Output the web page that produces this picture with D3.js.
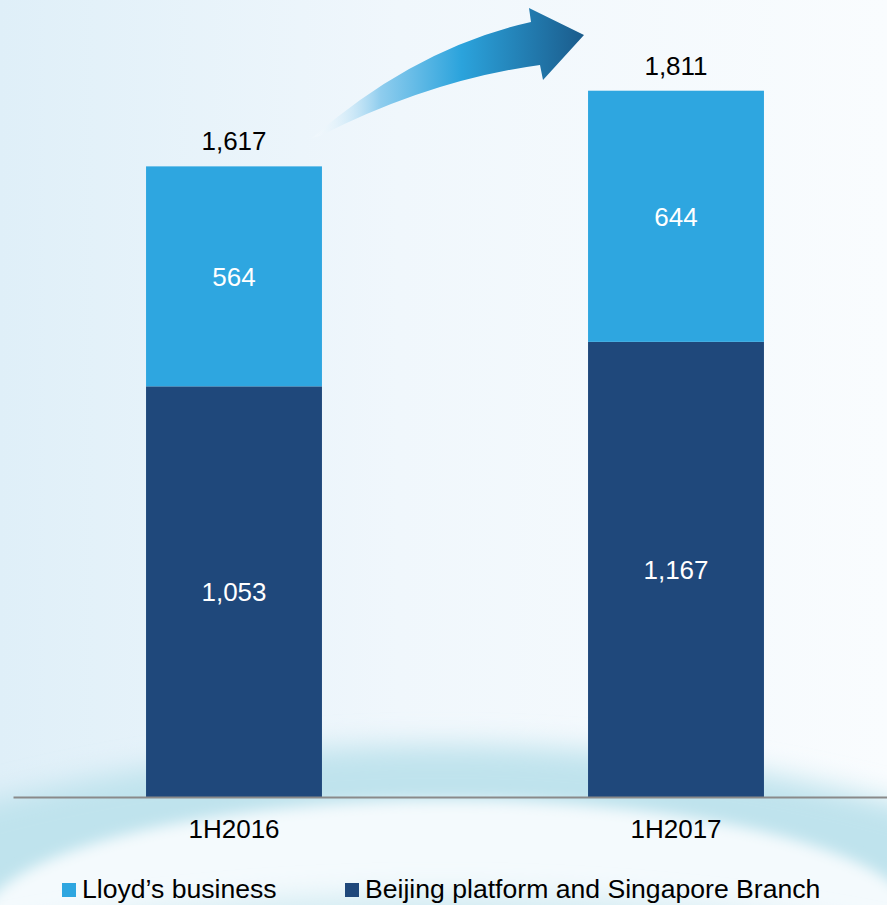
<!DOCTYPE html>
<html>
<head>
<meta charset="utf-8">
<script src="https://cdn.jsdelivr.net/npm/d3@7"></script>
<style>
  body { margin: 0; padding: 0; overflow: hidden; }
  svg { display: block; }
  text { font-family: "Liberation Sans", Arial, sans-serif; }
</style>
</head>
<body>
<svg id="chart"></svg>
<script>
// data
var periods = ["1H2016", "1H2017"];
var beijingValues = [1053, 1167];
var lloydsValues = [564, 644];
var totals = [1617, 1811];
var seriesNames = ["Lloyd\u2019s business", "Beijing platform and Singapore Branch"];
var seriesColors = ["#2ea6e0", "#1f487b"];

var screen = {width:887, height:905};

var svg = d3.select("#chart")
    .attr("width", screen.width)
    .attr("height", screen.height);

var defs = svg.append("defs");

// background gradients
var bg = defs.append("linearGradient").attr("id","bg")
    .attr("x1","0").attr("y1","0").attr("x2","1").attr("y2","0");
bg.append("stop").attr("offset","0").attr("stop-color","#dfeff8");
bg.append("stop").attr("offset","0.45").attr("stop-color","#f0f7fc");
bg.append("stop").attr("offset","1").attr("stop-color","#f9fcfe");

var blur = defs.append("filter").attr("id","soft")
    .attr("x","-20%").attr("y","-20%").attr("width","140%").attr("height","140%");
blur.append("feGaussianBlur").attr("stdDeviation", 14);

var blur2 = defs.append("filter").attr("id","soft2")
    .attr("x","-20%").attr("y","-20%").attr("width","140%").attr("height","140%");
blur2.append("feGaussianBlur").attr("stdDeviation", 7);

var arrowGrad = defs.append("linearGradient").attr("id","arrowGrad")
    .attr("gradientUnits","userSpaceOnUse")
    .attr("x1",313).attr("y1",0).attr("x2",583).attr("y2",0);
arrowGrad.append("stop").attr("offset","0").attr("stop-color","#ffffff").attr("stop-opacity",0.2);
arrowGrad.append("stop").attr("offset","0.25").attr("stop-color","#8fcdee");
arrowGrad.append("stop").attr("offset","0.55").attr("stop-color","#2ba3dc");
arrowGrad.append("stop").attr("offset","1").attr("stop-color","#1b5c8c");

var back = svg.append("g").classed("background", true);
back.append("rect")
    .attr("width", screen.width).attr("height", screen.height)
    .attr("fill", "url(#bg)");

// wave decoration at the bottom
back.append("ellipse")
    .attr("cx", 440).attr("cy", 1230).attr("rx", 960).attr("ry", 485)
    .attr("fill", "#bfe3ed").attr("filter", "url(#soft)");
back.append("ellipse")
    .attr("cx", 450).attr("cy", 925).attr("rx", 470).attr("ry", 125)
    .attr("fill", "#f4fafd").attr("filter", "url(#soft2)");
back.append("ellipse")
    .attr("cx", 440).attr("cy", 1090).attr("rx", 720).attr("ry", 195)
    .attr("fill", "#d2ebf2").attr("filter", "url(#soft)");

var margins = {left:13, right:-10, top:17, bottom:108};

var xScale = d3.scaleBand()
    .domain(periods)
    .range([margins.left, screen.width - margins.right])
    .paddingInner(0.602)
    .paddingOuter(0.301);

var yScale = d3.scaleLinear()
    .domain([0, 2000])
    .range([screen.height - margins.bottom, margins.top]);

var rows = periods.map(function(p, i) {
    return {period:p, beijing:beijingValues[i], lloyds:lloydsValues[i], total:totals[i]};
});

var stack = d3.stack().keys(["beijing", "lloyds"]);
var layers = stack(rows);

// arrow between the two bars
svg.append("path")
    .attr("d", "M312,138 Q415,48 531,22 L529,8 L584,35 L543,80 L540,65 Q430,80 320,136 Z")
    .attr("fill", "url(#arrowGrad)");

var layerColors = {beijing: seriesColors[1], lloyds: seriesColors[0]};

var bars = svg.append("g").classed("bars", true)
    .selectAll("g")
    .data(layers)
    .enter()
    .append("g")
    .attr("fill", function(layer) { return layerColors[layer.key]; });

bars.selectAll("rect")
    .data(function(layer) { return layer; })
    .enter()
    .append("rect")
    .attr("x", function(d) { return xScale(d.data.period); })
    .attr("y", function(d) { return yScale(d[1]); })
    .attr("width", xScale.bandwidth())
    .attr("height", function(d) { return yScale(d[0]) - yScale(d[1]); });

bars.selectAll("text")
    .data(function(layer) { return layer; })
    .enter()
    .append("text")
    .attr("x", function(d) { return xScale(d.data.period) + xScale.bandwidth()/2; })
    .attr("y", function(d) { return (yScale(d[0]) + yScale(d[1]))/2; })
    .attr("dy", "0.36em")
    .attr("text-anchor", "middle")
    .attr("fill", "#ffffff")
    .style("font-size", "26px")
    .text(function(d) { return d3.format(",")(d[1] - d[0]); });

// totals above bars
svg.append("g").classed("totals", true)
    .selectAll("text")
    .data(rows)
    .enter()
    .append("text")
    .attr("x", function(d) { return xScale(d.period) + xScale.bandwidth()/2; })
    .attr("y", function(d) { return yScale(d.total) - 16; })
    .attr("text-anchor", "middle")
    .attr("fill", "#000000")
    .style("font-size", "26px")
    .text(function(d) { return d3.format(",")(d.total); });

// x axis
var xAxis = d3.axisBottom(xScale).tickSize(0).tickPadding(23);
var axis = svg.append("g")
    .attr("transform", "translate(0," + yScale(0) + ")")
    .call(xAxis);
axis.select(".domain")
    .attr("stroke", "#8a8a8a")
    .attr("stroke-width", 2);
axis.selectAll("text")
    .attr("fill", "#000000")
    .style("font-size", "26px")
    .style("font-family", "'Liberation Sans', Arial, sans-serif");

// legend
var legendX = [62, 345];
var legend = svg.append("g").classed("legend", true)
    .selectAll("g")
    .data(seriesNames)
    .enter()
    .append("g")
    .attr("transform", function(d, i) { return "translate(" + legendX[i] + ",883)"; });
legend.append("rect")
    .attr("width", 14).attr("height", 14)
    .attr("fill", function(d, i) { return seriesColors[i]; });
legend.append("text")
    .attr("x", 20).attr("y", 15)
    .attr("fill", "#000000")
    .style("font-size", "26.6px")
    .text(function(d) { return d; });
</script>
</body>
</html>
